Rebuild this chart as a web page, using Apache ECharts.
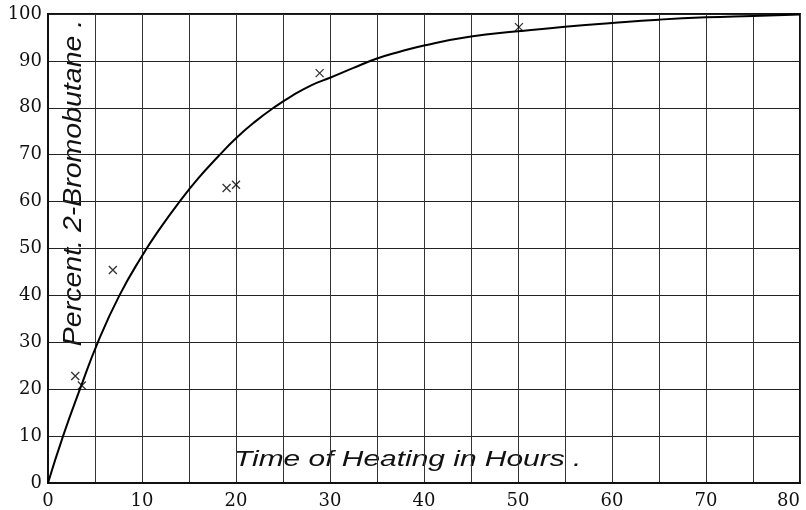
<!DOCTYPE html>
<html>
<head>
<meta charset="utf-8">
<script src="https://cdn.jsdelivr.net/npm/echarts@6/dist/echarts.min.js"></script>
<style>html,body{margin:0;padding:0;background:#fff}#c{width:806px;height:510px}</style>
</head>
<body>
<div id="c"></div>
<script>
// Observed data points (hours, percent 2-bromobutane)
const obsHours = [2.9, 3.6, 6.9, 19.0, 20.0, 28.9, 50.1];
const obsPercent = [22.8, 20.8, 45.4, 62.9, 63.6, 87.4, 97.2];
// Smooth curve
const curveHours = [0, 1.6, 3.4, 5.3, 7.6, 10, 12, 14, 16, 18, 20, 22, 24, 26, 28, 30, 32.5, 35, 37.5, 40, 45, 50, 55, 60, 65, 70, 75, 80];
const curvePercent = [0, 10, 20, 30, 40, 48.4, 54.5, 60, 65, 69.4, 73.5, 77, 80, 82.6, 84.8, 86.4, 88.5, 90.5, 92, 93.3, 95.2, 96.3, 97.3, 98.1, 98.8, 99.3, 99.6, 99.9];
const xTitle = 'Time of Heating in Hours .';
const yTitle = 'Percent. 2-Bromobutane .';

const chart = echarts.init(document.getElementById('c'));
const labelFont = {fontFamily: 'DejaVu Serif', fontSize: 18, color: '#111'};
chart.setOption({
  animation: false,
  backgroundColor: '#fff',
  grid: {left: 48, right: 6, top: 14, bottom: 27, show: true, borderColor: '#111', borderWidth: 2, outerBoundsMode: 'none', containLabel: false},
  xAxis: {
    type: 'value', min: 0, max: 80, interval: 5,
    axisLine: {show: true, lineStyle: {color: '#111', width: 2}},
    axisTick: {show: false},
    axisLabel: Object.assign({margin: 9, alignMaxLabel: 'right', formatter: v => (v % 10 === 0 ? String(v) : '')}, labelFont),
    splitLine: {show: true, lineStyle: {color: '#333', width: 1}}
  },
  yAxis: {
    type: 'value', min: 0, max: 100, interval: 10,
    axisLine: {show: true, lineStyle: {color: '#111', width: 2}},
    axisTick: {show: false},
    axisLabel: Object.assign({margin: 6, padding: [5, 0, 0, 0]}, labelFont),
    splitLine: {show: true, lineStyle: {color: '#222', width: 1.2}}
  },
  graphic: [
    {type: 'text', x: 234, y: 449, scaleX: 1.36, style: {text: xTitle, fontFamily: 'Liberation Sans', fontStyle: 'italic', fontSize: 22, fill: '#111'}},
    {type: 'text', x: 62, y: 183, rotation: Math.PI / 2, scaleX: 1.14, style: {text: yTitle, fontFamily: 'Liberation Sans', fontStyle: 'italic', fontSize: 25, fill: '#111', align: 'center', verticalAlign: 'top'}}
  ],
  series: [
    {
      type: 'line', data: curveHours.map((h, i) => [h, curvePercent[i]]),
      smooth: 0.5, showSymbol: false, lineStyle: {color: '#000', width: 2}, z: 3
    },
    {
      type: 'scatter', data: obsHours.map((h, i) => [h, obsPercent[i]]),
      symbol: 'path://M0,0L10,10M10,0L0,10', symbolSize: 8,
      itemStyle: {color: 'none', borderColor: '#000', borderWidth: 1.3}, z: 4
    }
  ]
});
</script>
</body>
</html>
